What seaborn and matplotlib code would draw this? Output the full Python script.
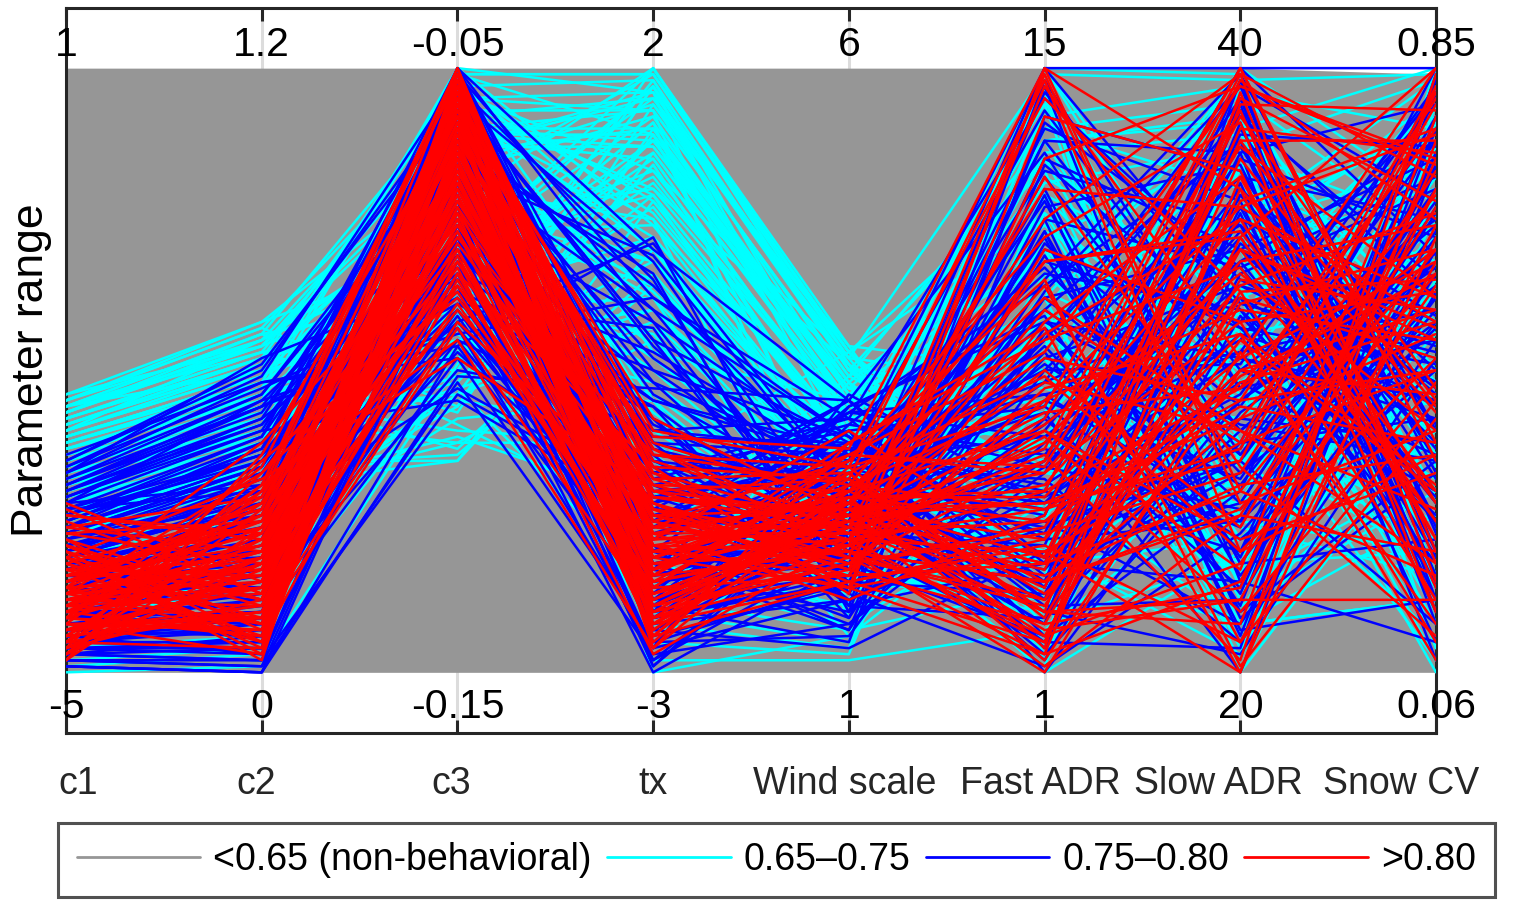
import pandas as pd
import matplotlib
matplotlib.use("Agg")
import matplotlib.pyplot as plt
from matplotlib.lines import Line2D
import seaborn as sns

params = ["c1", "c2", "c3", "tx", "Wind scale", "Fast ADR", "Slow ADR", "Snow CV"]
param_max = ["1", "1.2", "-0.05", "2", "6", "15", "40", "0.85"]
param_min = ["-5", "0", "-0.15", "-3", "1", "1", "20", "0.06"]

# envelope of the non-behavioral runs (% of parameter range)
grey_lo = [0, 0, 0, 0, 0, 0, 0, 0]
grey_hi = [100, 100, 100, 100, 100, 100, 100, 99]

# behavioral runs: position on each axis, % of the parameter range
red_c1 = [12, 5, 18, 9, 22, 3, 15, 7,
          11, 20, 2, 14, 8, 17, 25, 6,
          10, 13, 19, 4, 16, 9, 23, 12,
          7, 28, 11, 5, 15, 21, 8, 13,
          3, 18, 10, 6, 24, 14, 9, 17,
          2, 12, 20, 7, 15, 11, 26, 5,
          13, 19, 8, 16, 4, 10, 22, 14,
          6, 18, 9, 12, 3, 21, 11, 16,
          4, 16, 9, 21, 13, 7, 19, 10,
          24, 6, 14, 2, 18, 11, 27, 8,
          15, 5, 20, 12, 3, 17, 9, 23,
          11, 26, 7, 14, 19, 4, 13, 21]
red_c2 = [14, 22, 8, 30, 5, 18, 26, 11,
          20, 3, 33, 16, 9, 24, 13, 28,
          6, 19, 12, 35, 17, 7, 25, 21,
          10, 15, 29, 4, 23, 12, 31, 8,
          18, 27, 14, 9, 20, 38, 6, 16,
          24, 11, 2, 19, 28, 13, 22, 10,
          15, 32, 7, 21, 17, 26, 12, 5,
          23, 9, 18, 14, 30, 8, 20, 25,
          12, 26, 19, 7, 33, 15, 4, 22,
          29, 10, 17, 36, 8, 24, 13, 3,
          20, 31, 11, 16, 27, 6, 34, 18,
          9, 23, 14, 28, 5, 19, 25, 12]
red_c3 = [95, 82, 99, 70, 88, 76, 92, 64,
          85, 97, 73, 90, 58, 80, 94, 68,
          87, 100, 78, 62, 91, 84, 72, 96,
          66, 89, 81, 98, 75, 93, 55, 86,
          79, 95, 69, 83, 97, 74, 90, 61,
          88, 77, 99, 71, 85, 93, 67, 80,
          96, 52, 87, 74, 91, 82, 98, 65,
          78, 94, 86, 70, 100, 83, 76, 92,
          90, 72, 97, 81, 63, 94, 86, 75,
          99, 68, 84, 92, 57, 79, 96, 88,
          73, 100, 82, 66, 91, 77, 98, 60,
          85, 93, 70, 87, 95, 78, 64, 89]
red_tx = [22, 10, 30, 15, 38, 6, 25, 18,
          12, 34, 20, 8, 28, 16, 42, 24,
          14, 5, 31, 19, 26, 11, 36, 21,
          9, 27, 17, 33, 13, 23, 4, 29,
          18, 40, 11, 25, 7, 32, 20, 15,
          35, 13, 22, 28, 10, 19, 3, 26,
          16, 30, 8, 24, 37, 14, 21, 12,
          27, 17, 33, 9, 23, 19, 29, 6,
          20, 31, 9, 26, 14, 37, 17, 6,
          28, 12, 23, 39, 10, 21, 32, 15,
          7, 25, 18, 34, 11, 29, 4, 22,
          16, 36, 13, 27, 8, 30, 19, 24]
red_wind = [25, 18, 32, 22, 28, 15, 35, 20,
            27, 13, 30, 24, 19, 38, 26, 21,
            16, 33, 23, 29, 17, 25, 31, 14,
            28, 22, 36, 19, 26, 12, 30, 24,
            20, 34, 27, 18, 29, 23, 16, 32,
            25, 21, 40, 17, 27, 31, 22, 19,
            33, 26, 15, 28, 23, 36, 20, 25,
            18, 30, 24, 21, 29, 14, 26, 34,
            22, 30, 17, 27, 35, 20, 25, 31,
            14, 28, 23, 37, 19, 26, 33, 21,
            29, 16, 24, 32, 18, 27, 38, 23,
            20, 34, 26, 15, 30, 22, 28, 36]
red_fast = [12, 35, 98, 5, 48, 22, 65, 8,
            28, 100, 15, 42, 3, 55, 18, 30,
            70, 10, 38, 25, 85, 1, 45, 20,
            14, 60, 33, 97, 7, 26, 52, 17,
            40, 9, 75, 23, 2, 36, 58, 13,
            31, 99, 19, 47, 6, 68, 27, 11,
            4, 43, 21, 80, 16, 34, 0, 50,
            24, 62, 10, 39, 29, 92, 18, 44,
            20, 56, 8, 33, 72, 15, 41, 27,
            3, 64, 25, 100, 12, 37, 49, 6,
            30, 18, 82, 10, 45, 22, 57, 35,
            15, 95, 28, 5, 40, 68, 19, 53]
red_slow = [55, 98, 20, 72, 40, 88, 1, 63,
            35, 80, 48, 100, 15, 67, 30, 92,
            58, 8, 75, 44, 97, 26, 60, 0,
            85, 38, 70, 52, 12, 95, 45, 78,
            22, 65, 99, 33, 50, 2, 82, 42,
            68, 28, 90, 56, 18, 73, 37, 62,
            96, 47, 5, 77, 31, 87, 53, 24,
            70, 40, 94, 10, 64, 83, 49, 100,
            38, 75, 14, 58, 91, 26, 66, 45,
            82, 5, 52, 30, 70, 99, 20, 61,
            47, 88, 34, 12, 77, 56, 0, 93,
            27, 63, 42, 80, 17, 72, 50, 97]
red_snow = [30, 75, 52, 100, 18, 88, 42, 65,
            96, 10, 58, 35, 80, 25, 70, 47,
            5, 92, 62, 38, 85, 20, 55, 72,
            44, 97, 28, 68, 12, 78, 50, 90,
            33, 60, 15, 83, 46, 99, 22, 56,
            74, 40, 86, 2, 64, 30, 94, 52,
            18, 70, 45, 89, 36, 62, 8, 80,
            57, 27, 93, 48, 76, 14, 66, 38,
            50, 22, 85, 63, 10, 77, 40, 95,
            28, 68, 100, 16, 55, 82, 36, 70,
            90, 45, 6, 74, 58, 31, 88, 20,
            66, 12, 79, 43, 97, 25, 60, 84]

blue_c1 = [8, 20, 4, 28, 14, 33, 10, 24,
           2, 17, 30, 6, 22, 12, 36, 9,
           26, 15, 3, 19, 31, 11, 7, 23,
           13, 29, 5, 18, 25, 1, 21, 16,
           34, 10, 27, 8, 14, 32, 4, 20,
           11, 24, 6, 30, 17, 2, 26, 13,
           19, 9, 35, 15, 28, 7, 22, 12,
           5, 31, 18, 3, 25, 14, 10, 27,
           16, 6, 21, 33, 9, 23, 1, 18,
           12, 26, 3, 19, 30, 8, 22, 15,
           34, 6, 17, 28, 10, 24, 2, 20,
           14, 32, 9, 25, 5, 18, 29, 11,
           21, 4, 27, 13, 35, 7, 23, 16,
           1, 19, 31, 10, 26, 14, 8, 22,
           29, 12, 5, 33, 17, 24, 3, 20]
blue_c2 = [10, 32, 4, 45, 20, 52, 15, 38,
           1, 26, 41, 8, 30, 18, 48, 12,
           35, 22, 2, 28, 43, 16, 6, 33,
           19, 40, 5, 24, 37, 0, 29, 14,
           47, 11, 36, 9, 21, 44, 3, 27,
           13, 34, 7, 42, 23, 1, 39, 17,
           25, 10, 50, 18, 31, 6, 28, 15,
           4, 44, 20, 2, 36, 12, 9, 30,
           22, 3, 26, 46, 8, 34, 0, 19,
           18, 38, 6, 29, 44, 12, 33, 24,
           49, 9, 27, 40, 15, 35, 2, 31,
           21, 46, 13, 37, 7, 25, 42, 16,
           30, 5, 39, 19, 51, 11, 34, 23,
           0, 28, 45, 14, 36, 20, 10, 32,
           41, 17, 8, 48, 26, 35, 4, 30]
blue_c3 = [92, 70, 98, 56, 84, 65, 95, 78,
           48, 88, 74, 100, 60, 82, 52, 90,
           67, 96, 80, 58, 86, 72, 99, 63,
           76, 45, 93, 69, 85, 54, 97, 81,
           62, 89, 75, 100, 57, 83, 68, 94,
           50, 79, 91, 66, 87, 73, 98, 59,
           84, 71, 95, 53, 78, 90, 64, 86,
           97, 61, 82, 74, 100, 55, 88, 69,
           77, 93, 47, 85, 66, 96, 72, 80,
           86, 63, 94, 75, 57, 90, 80, 69,
           98, 52, 83, 91, 66, 78, 46, 95,
           72, 88, 60, 97, 81, 55, 92, 74,
           65, 100, 85, 70, 93, 58, 79, 87,
           49, 96, 76, 84, 62, 99, 71, 89,
           82, 68, 95, 54, 87, 77, 100, 61]
blue_tx = [20, 45, 8, 62, 30, 12, 55, 25,
           3, 38, 18, 70, 15, 34, 5, 50,
           28, 10, 42, 22, 66, 1, 35, 17,
           58, 26, 7, 40, 14, 72, 32, 11,
           24, 48, 4, 36, 19, 60, 9, 29,
           44, 16, 27, 2, 52, 21, 38, 13,
           6, 33, 68, 23, 11, 46, 0, 31,
           18, 57, 26, 9, 40, 15, 64, 4,
           37, 12, 29, 20, 53, 7, 25, 42,
           27, 50, 14, 35, 4, 60, 22, 42,
           10, 31, 69, 18, 45, 7, 28, 55,
           36, 12, 24, 65, 2, 39, 16, 48,
           21, 58, 8, 33, 19, 71, 13, 26,
           47, 5, 30, 41, 17, 62, 25, 9,
           34, 20, 54, 11, 38, 1, 29, 44]
blue_wind = [20, 35, 12, 42, 27, 16, 38, 24,
             8, 30, 22, 45, 18, 33, 6, 28,
             36, 14, 26, 40, 10, 31, 21, 44,
             17, 25, 4, 37, 29, 13, 41, 23,
             32, 19, 46, 11, 27, 39, 15, 34,
             9, 24, 43, 20, 30, 7, 36, 26,
             14, 40, 22, 33, 5, 28, 18, 38,
             25, 11, 35, 16, 42, 21, 31, 12,
             29, 37, 19, 8, 34, 23, 45, 15,
             26, 39, 16, 31, 44, 21, 35, 11,
             41, 18, 29, 7, 37, 24, 45, 14,
             32, 22, 43, 13, 28, 38, 19, 34,
             9, 36, 25, 42, 17, 30, 40, 23,
             45, 15, 33, 27, 10, 39, 21, 31,
             18, 43, 24, 35, 12, 28, 37, 20]
blue_fast = [15, 60, 30, 95, 8, 45, 22, 72,
             38, 3, 55, 18, 85, 27, 50, 10,
             66, 34, 100, 12, 42, 78, 5, 58,
             25, 90, 20, 48, 68, 1, 36, 82,
             14, 53, 28, 98, 40, 6, 63, 32,
             75, 17, 46, 88, 24, 56, 11, 70,
             35, 0, 62, 43, 92, 19, 52, 29,
             80, 9, 39, 65, 16, 96, 44, 26,
             58, 4, 73, 33, 50, 21, 86, 13,
             48, 22, 77, 10, 59, 35, 93, 18,
             67, 41, 5, 84, 30, 54, 14, 71,
             26, 97, 39, 62, 8, 46, 79, 23,
             57, 12, 88, 34, 69, 2, 44, 60,
             19, 75, 28, 51, 91, 15, 37, 83,
             6, 64, 42, 100, 24, 55, 31, 73]
blue_slow = [45, 88, 20, 65, 98, 32, 75, 10,
             55, 38, 92, 15, 70, 48, 82, 3,
             60, 27, 100, 42, 85, 18, 68, 52,
             8, 78, 35, 95, 58, 23, 72, 40,
             90, 13, 62, 47, 80, 30, 97, 5,
             67, 50, 25, 86, 37, 74, 12, 57,
             94, 43, 70, 0, 83, 28, 64, 46,
             18, 77, 53, 99, 33, 60, 22, 89,
             41, 66, 7, 79, 51, 93, 36, 71,
             62, 25, 84, 40, 11, 73, 50, 95,
             33, 68, 4, 57, 88, 20, 79, 44,
             98, 15, 64, 36, 76, 53, 9, 86,
             28, 91, 47, 70, 19, 59, 100, 38,
             81, 6, 56, 31, 67, 93, 24, 74,
             45, 87, 14, 61, 35, 97, 52, 16]
blue_snow = [70, 25, 90, 48, 12, 80, 58, 35,
             96, 42, 65, 5, 85, 30, 75, 52,
             18, 62, 100, 38, 72, 22, 88, 45,
             55, 10, 78, 33, 94, 60, 28, 68,
             40, 86, 15, 74, 50, 98, 20, 63,
             82, 36, 57, 2, 92, 46, 70, 26,
             8, 66, 44, 84, 32, 77, 54, 90,
             62, 16, 97, 40, 73, 29, 50, 87,
             35, 80, 12, 59, 95, 24, 68, 47,
             44, 83, 20, 64, 92, 37, 75, 10,
             58, 28, 99, 51, 14, 70, 41, 88,
             23, 66, 48, 80, 5, 60, 33, 94,
             76, 16, 55, 38, 86, 25, 69, 100,
             12, 90, 45, 72, 30, 62, 84, 19,
             67, 35, 96, 53, 8, 78, 42, 58]

cyan_c1 = [30, 42, 18, 36, 8, 45, 24, 39,
           12, 33, 40, 2, 28, 44, 15, 35,
           38, 20, 46, 26, 5, 41, 32, 14,
           43, 22, 37, 10, 34, 29, 44, 17,
           6, 39, 25, 42, 31, 0, 36, 21,
           40, 13, 33, 45, 19, 27, 38, 9,
           35, 43, 23, 30, 41, 4, 37, 16,
           28, 45, 11, 39, 34, 24, 42, 7,
           32, 20, 44, 27, 38, 14, 36, 3,
           41, 26, 31, 43, 18, 37, 10, 29,
           25, 40, 14, 34, 44, 9, 31, 38,
           19, 43, 28, 6, 36, 22, 41, 13,
           33, 1, 39, 26, 45, 17, 30, 42,
           11, 35, 24, 46, 20, 37, 8, 32,
           43, 16, 29, 40, 5, 34, 23, 44]
cyan_c2 = [40, 52, 25, 46, 12, 58, 33, 48,
           18, 42, 55, 4, 36, 50, 22, 44,
           47, 28, 54, 35, 8, 51, 40, 20,
           56, 30, 45, 15, 43, 38, 53, 24,
           10, 49, 34, 52, 39, 1, 46, 29,
           50, 19, 41, 57, 26, 35, 48, 14,
           44, 54, 31, 38, 51, 6, 45, 23,
           37, 55, 16, 49, 42, 32, 53, 11,
           41, 27, 56, 34, 47, 20, 43, 2,
           52, 33, 39, 55, 24, 46, 13, 36,
           35, 50, 20, 44, 56, 12, 40, 48,
           26, 54, 37, 7, 46, 30, 52, 18,
           42, 3, 49, 34, 57, 23, 39, 53,
           15, 45, 31, 58, 27, 47, 10, 41,
           55, 21, 38, 51, 5, 43, 29, 54]
cyan_c3 = [88, 60, 97, 45, 80, 70, 100, 52,
           92, 38, 75, 85, 65, 98, 42, 78,
           55, 90, 68, 35, 95, 72, 48, 83,
           62, 99, 40, 77, 87, 58, 93, 46,
           82, 67, 100, 50, 73, 89, 37, 96,
           64, 79, 53, 91, 44, 86, 69, 98,
           57, 84, 39, 94, 71, 61, 100, 47,
           76, 90, 54, 81, 66, 97, 43, 88,
           59, 74, 95, 36, 85, 63, 92, 51,
           80, 99, 49, 70, 87, 56, 78, 93,
           83, 56, 94, 68, 41, 89, 75, 99,
           61, 86, 47, 92, 72, 38, 96, 80,
           53, 100, 66, 88, 44, 78, 97, 59,
           91, 70, 35, 84, 64, 98, 50, 87,
           76, 95, 58, 81, 100, 46, 73, 90]
cyan_tx = [85, 62, 98, 40, 75, 92, 20, 68,
           95, 55, 80, 10, 88, 70, 45, 100,
           60, 90, 30, 78, 96, 50, 84, 15,
           72, 99, 38, 65, 87, 25, 93, 58,
           5, 82, 74, 97, 48, 89, 66, 35,
           91, 54, 79, 2, 86, 63, 100, 42,
           77, 94, 28, 70, 83, 12, 96, 57,
           68, 88, 46, 99, 33, 76, 90, 8,
           81, 52, 93, 64, 18, 85, 72, 97,
           43, 89, 60, 79, 95, 36, 70, 0,
           92, 48, 80, 97, 25, 87, 64, 99,
           56, 90, 14, 75, 95, 38, 83, 68,
           100, 30, 86, 60, 94, 6, 78, 88,
           45, 97, 70, 22, 91, 53, 84, 96,
           35, 79, 98, 62, 10, 89, 74, 93]
cyan_wind = [40, 28, 50, 20, 35, 46, 10, 32,
             52, 24, 42, 5, 48, 30, 18, 54,
             26, 44, 14, 38, 51, 22, 36, 8,
             34, 53, 16, 30, 45, 12, 49, 27,
             3, 41, 33, 50, 21, 47, 29, 15,
             46, 25, 39, 2, 44, 31, 53, 19,
             37, 48, 13, 35, 42, 7, 50, 28,
             32, 45, 22, 52, 17, 38, 47, 4,
             43, 26, 49, 34, 11, 40, 36, 51,
             20, 46, 30, 39, 53, 16, 33, 6,
             44, 23, 51, 36, 14, 48, 29, 53,
             19, 41, 33, 9, 46, 27, 52, 38,
             50, 12, 43, 31, 54, 24, 37, 47,
             6, 39, 28, 49, 17, 45, 35, 22,
             53, 30, 42, 15, 48, 26, 40, 11]
cyan_fast = [55, 20, 85, 40, 5, 70, 30, 95,
             12, 62, 45, 100, 25, 78, 8, 50,
             88, 35, 18, 66, 2, 58, 92, 28,
             42, 75, 10, 98, 52, 22, 68, 38,
             80, 15, 60, 33, 90, 48, 0, 72,
             26, 97, 44, 7, 64, 36, 83, 18,
             56, 3, 76, 30, 94, 14, 47, 86,
             40, 68, 23, 99, 11, 58, 34, 79,
             6, 50, 88, 20, 73, 42, 96, 27,
             63, 9, 38, 82, 16, 54, 100, 31,
             35, 72, 14, 88, 52, 4, 64, 26,
             93, 43, 18, 79, 60, 1, 48, 85,
             22, 66, 38, 97, 10, 56, 30, 76,
             45, 8, 90, 33, 70, 16, 59, 100,
             28, 81, 50, 12, 74, 39, 95, 62]
cyan_slow = [30, 85, 55, 10, 95, 40, 70, 18,
             62, 2, 78, 48, 90, 25, 65, 100,
             35, 72, 8, 58, 82, 15, 97, 45,
             75, 22, 88, 38, 5, 68, 50, 93,
             12, 60, 99, 28, 80, 42, 20, 86,
             52, 0, 70, 33, 92, 57, 14, 76,
             96, 46, 26, 84, 6, 64, 38, 89,
             18, 74, 54, 98, 36, 10, 80, 44,
             66, 30, 91, 3, 59, 83, 24, 72,
             48, 94, 16, 62, 40, 87, 56, 8,
             78, 12, 56, 92, 34, 68, 4, 85,
             44, 97, 22, 63, 15, 80, 52, 28,
             90, 38, 71, 0, 59, 83, 26, 47,
             66, 19, 94, 42, 8, 75, 55, 99,
             31, 87, 11, 62, 46, 77, 20, 96]
cyan_snow = [60, 15, 88, 40, 72, 25, 95, 50,
             8, 80, 35, 66, 100, 20, 55, 78,
             45, 92, 12, 70, 30, 85, 4, 62,
             98, 38, 58, 18, 76, 48, 90, 28,
             65, 5, 82, 52, 22, 96, 42, 74,
             32, 68, 14, 87, 56, 0, 79, 46,
             90, 26, 60, 36, 94, 10, 70, 54,
             20, 84, 44, 99, 6, 64, 30, 86,
             52, 76, 24, 92, 40, 58, 16, 80,
             72, 34, 97, 2, 66, 48, 84, 12,
             38, 91, 62, 18, 82, 45, 100, 28,
             74, 8, 56, 94, 33, 68, 14, 87,
             50, 22, 79, 42, 96, 4, 64, 35,
             85, 58, 10, 72, 26, 90, 48, 16,
             60, 98, 30, 76, 2, 54, 88, 40]

groups = {
    "0.65\u20130.75": [cyan_c1, cyan_c2, cyan_c3, cyan_tx, cyan_wind, cyan_fast, cyan_slow, cyan_snow],
    "0.75\u20130.80": [blue_c1, blue_c2, blue_c3, blue_tx, blue_wind, blue_fast, blue_slow, blue_snow],
    ">0.80": [red_c1, red_c2, red_c3, red_tx, red_wind, red_fast, red_slow, red_snow],
}
colors = {"0.65\u20130.75": "#00ffff", "0.75\u20130.80": "#0000ff", ">0.80": "#ff0000"}
grey_label = "<0.65 (non-behavioral)"
grey_color = "#969696"


def build_frame(groups):
    rows = []
    for g, cols in groups.items():
        n = len(cols[0])
        assert all(len(c) == n for c in cols), (g, [len(c) for c in cols])
        for i in range(n):
            for j, c in enumerate(cols):
                rows.append((g, f"{g}_{i}", j, c[i] / 100))
    return pd.DataFrame(rows, columns=["group", "run", "axis", "value"])


df = build_frame(groups)

sns.set_style("white")
plt.rcParams["font.family"] = ["Liberation Sans", "DejaVu Sans"]
plt.rcParams["text.color"] = "black"
plt.rcParams["axes.labelcolor"] = "black"

fig = plt.figure(figsize=(15.18, 9.08), dpi=100)
ax = fig.add_axes([0.0435, 0.193, 0.9025, 0.7985])

ax.fill_between(range(len(params)), [v / 100 for v in grey_lo], [v / 100 for v in grey_hi],
                color=grey_color, lw=0, zorder=2)

for z, g in enumerate(groups):
    sns.lineplot(data=df[df["group"] == g], x="axis", y="value", units="run",
                 estimator=None, sort=False, color=colors[g], lw=1.8,
                 legend=False, ax=ax, zorder=3 + z)

ax.set_xlim(0, len(params) - 1)
ax.set_ylim(-0.1, 1.1)
ax.set_xticks(range(len(params)))
ax.set_yticks([])
ax.set_xlabel("")
ax.set_ylabel("Parameter range", fontsize=32, labelpad=10)
ax.tick_params(axis="x", direction="in", top=True, bottom=True, length=9.5, width=2.2,
               color="#262626", labelbottom=False)
ax.grid(axis="x", color="#dcdcdc", lw=2.2, zorder=0)
ax.set_axisbelow(True)
for s in ax.spines.values():
    s.set_linewidth(2.2)
    s.set_color("#262626")

for j in range(len(params)):
    ax.text(j, 1.02, param_max[j], ha="center", va="baseline", fontsize=29.5, zorder=10)
    ax.text(j, -0.076, param_min[j], ha="center", va="baseline", fontsize=29.5, zorder=10)

name_x = [0.06, 0.97, 1.97, 3.0, 3.98, 4.98, 5.89, 6.82]
for j, name in enumerate(params):
    ax.text(name_x[j], -0.201, name, ha="center", va="baseline", fontsize=27,
            color="#262626", clip_on=False)

handles = [Line2D([], [], color=grey_color, lw=2)]
handles += [Line2D([], [], color=colors[g], lw=2) for g in groups]
labels = [grey_label] + list(groups)
leg = fig.legend(handles, labels, loc="center", bbox_to_anchor=(0.5115, 0.053), ncol=4,
                 fontsize=27, handlelength=3.3, handletextpad=0.35, columnspacing=0.4,
                 frameon=True, fancybox=False, edgecolor="#262626", borderpad=0.5)
leg.get_frame().set_linewidth(2.2)

fig.savefig("out.png", dpi=100)
